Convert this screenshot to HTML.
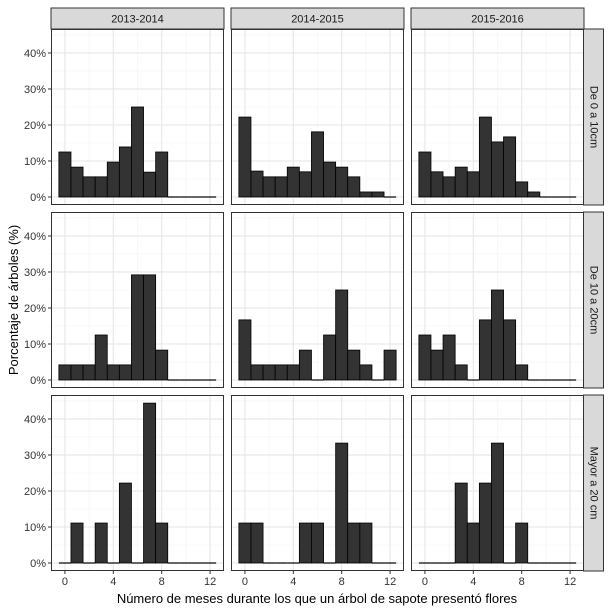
<!DOCTYPE html>
<html><head><meta charset="utf-8">
<style>
body{margin:0;background:#fff;}
svg{display:block;font-family:"Liberation Sans",sans-serif;}
</style></head>
<body>
<svg id="chart" width="613" height="610" viewBox="0 0 613 610"></svg>
<script>
const colLabels = ["2013-2014","2014-2015","2015-2016"];
const rowLabels = ["De 0 a 10cm","De 10 a 20cm","Mayor a 20 cm"];
const months = [0,1,2,3,4,5,6,7,8,9,10,11,12];
const r1c1 = [12.5,8.3,5.6,5.6,9.7,13.9,25,6.9,12.5,0,0,0,0];
const r1c2 = [22.2,7.2,5.6,5.6,8.3,7.0,18.1,9.7,8.3,5.6,1.4,1.4,0];
const r1c3 = [12.5,7.0,5.6,8.3,7.0,22.2,15.3,16.7,4.2,1.4,0,0,0];
const r2c1 = [4.2,4.2,4.2,12.5,4.2,4.2,29.2,29.2,8.3,0,0,0,0];
const r2c2 = [16.7,4.2,4.2,4.2,4.2,8.3,0,12.5,25,8.3,4.2,0,8.3];
const r2c3 = [12.5,8.3,12.5,4.2,0,16.7,25,16.7,4.2,0,0,0,0];
const r3c1 = [0,11.1,0,11.1,0,22.2,0,44.4,11.1,0,0,0,0];
const r3c2 = [11.1,11.1,0,0,0,11.1,11.1,0,33.3,11.1,11.1,0,0];
const r3c3 = [0,0,0,22.2,11.1,22.2,33.3,0,11.1,0,0,0,0];
const yTicks = [0,10,20,30,40];
const yTickLabels = ["0%","10%","20%","30%","40%"];
const xTicks = [0,4,8,12];

const panels = [[r1c1,r1c2,r1c3],[r2c1,r2c2,r2c3],[r3c1,r3c2,r3c3]];
const NS = "http://www.w3.org/2000/svg";
const svg = document.getElementById("chart");
function mk(tag, attrs, parent){const e=document.createElementNS(NS,tag);for(const k in attrs)e.setAttribute(k,attrs[k]);(parent||svg).appendChild(e);return e;}

const colX = [51,231,411], PW = 173;
const rowY = [29,212,395], PH = 176;
const xMin = -1.15, xMax = 13.15, yMin = -2.22, yMax = 46.66;
function sx(c,v){return colX[c] + (v - xMin)/(xMax-xMin)*PW;}
function sy(r,v){return rowY[r] + PH - (v - yMin)/(yMax-yMin)*PH;}

colLabels.forEach((lab,c)=>{
  const g = mk("g",{});
  
  
  mk("rect",{x:colX[c],y:8,width:PW,height:21,fill:"#d9d9d9",stroke:"#333",'stroke-width':1},g);
  const t = mk("text",{x:colX[c]+PW/2,y:22.5,'text-anchor':'middle','font-size':11,fill:"#1a1a1a"},g);
  t.textContent = lab;
});
rowLabels.forEach((lab,r)=>{
  const g = mk("g",{});
  
  
  mk("rect",{x:583.5,y:rowY[r],width:20,height:PH,fill:"#d9d9d9",stroke:"#333",'stroke-width':1},g);
  const cx=593.5, cy=rowY[r]+PH/2;
  const t = mk("text",{x:cx,y:cy,'text-anchor':'middle','dominant-baseline':'central','font-size':11,fill:"#1a1a1a",transform:`rotate(90 ${cx} ${cy})`},g);
  t.textContent = lab;
});

for(let r=0;r<3;r++){
  for(let c=0;c<3;c++){
    const data = panels[r][c];
    const g = mk("g",{});
    
    
    mk("rect",{x:colX[c],y:rowY[r],width:PW,height:PH,fill:"#fff"},g);
    [2,6,10].forEach(v=>mk("line",{x1:sx(c,v),x2:sx(c,v),y1:rowY[r],y2:rowY[r]+PH,stroke:"#f3f3f3",'stroke-width':0.6},g));
    [5,15,25,35,45].forEach(v=>mk("line",{x1:colX[c],x2:colX[c]+PW,y1:sy(r,v),y2:sy(r,v),stroke:"#f3f3f3",'stroke-width':0.6},g));
    xTicks.forEach(v=>mk("line",{x1:sx(c,v),x2:sx(c,v),y1:rowY[r],y2:rowY[r]+PH,stroke:"#e6e6e6",'stroke-width':1.1},g));
    yTicks.forEach(v=>mk("line",{x1:colX[c],x2:colX[c]+PW,y1:sy(r,v),y2:sy(r,v),stroke:"#e6e6e6",'stroke-width':1.1},g));
    months.forEach((m,i)=>{
      const v = data[i];
      const x0 = sx(c,m-0.5), x1 = sx(c,m+0.5);
      if(v>0){
        const b = mk("rect",{x:x0,y:sy(r,v),width:x1-x0,height:sy(r,0)-sy(r,v),fill:"#333",stroke:"#000",'stroke-width':0.8},g);
        
        
      } else {
        const b = mk("line",{x1:x0,x2:x1,y1:sy(r,0),y2:sy(r,0),stroke:"#000",'stroke-width':1.2},g);
        
        
      }
    });
    mk("rect",{x:colX[c]+0.5,y:rowY[r]+0.5,width:PW-1,height:PH-1,fill:"none",stroke:"#333",'stroke-width':1},g);
    if(c===0){
      yTicks.forEach((v,i)=>{
        mk("line",{x1:colX[0]-3,x2:colX[0],y1:sy(r,v),y2:sy(r,v),stroke:"#333"},g);
        const t = mk("text",{x:colX[0]-5,y:sy(r,v)+4,'text-anchor':'end','font-size':11,fill:"#333"},g);
        t.textContent = yTickLabels[i];
      });
    }
    if(r===2){
      xTicks.forEach(v=>{
        mk("line",{x1:sx(c,v),x2:sx(c,v),y1:rowY[2]+PH,y2:rowY[2]+PH+3,stroke:"#333"},g);
        const t = mk("text",{x:sx(c,v),y:rowY[2]+PH+14,'text-anchor':'middle','font-size':11,fill:"#333"},g);
        t.textContent = v;
      });
    }
  }
}
const xt = mk("text",{x:317,y:603,'text-anchor':'middle','font-size':13,fill:"#000"});


xt.textContent = "Número de meses durante los que un árbol de sapote presentó flores";
const yt = mk("text",{x:18,y:300,'text-anchor':'middle','font-size':13,fill:"#000",transform:"rotate(-90 18 300)"});


yt.textContent = "Porcentaje de árboles (%)";
</script>
</body></html>
